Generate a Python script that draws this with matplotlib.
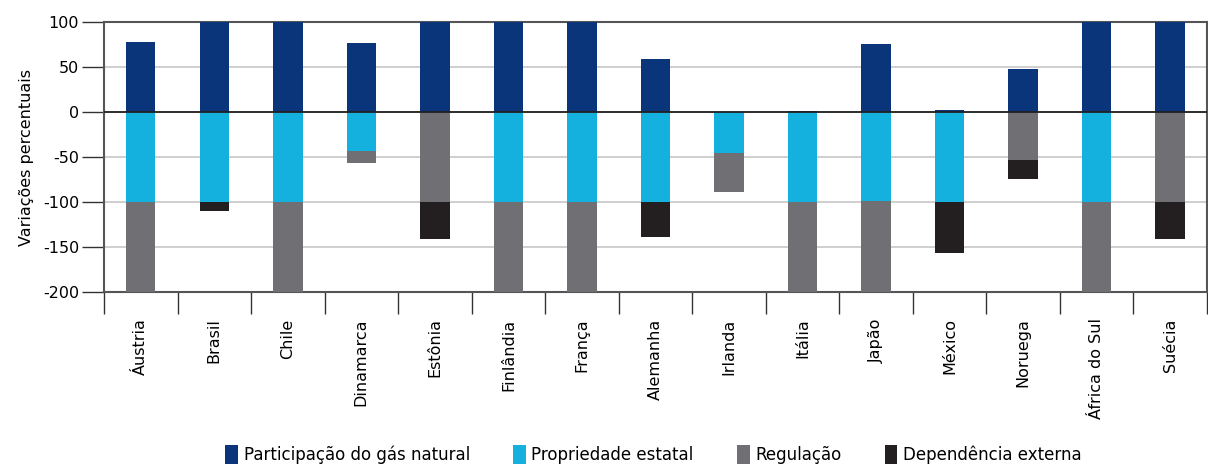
import numpy as np
import matplotlib.pyplot as plt
from matplotlib.ticker import FixedLocator

# Dados (variações percentuais)
paises = ['Áustria', 'Brasil', 'Chile', 'Dinamarca', 'Estônia', 'Finlândia', 'França',
          'Alemanha', 'Irlanda', 'Itália', 'Japão', 'México', 'Noruega', 'África do Sul', 'Suécia']
gas_natural = [78, 100, 100, 77, 100, 100, 100, 59, 0, 1, 76, 2, 48, 100, 100]
prop_estatal = [-100, -100, -100, -43, 0, -100, -100, -100, -46, -100, -99, -100, 0, -100, 0]
regulacao = [-100, 0, -100, -14, -100, -100, -100, 0, -43, -100, -101, 0, -53, -100, -100]
dependencia = [0, -10, 0, 0, -41, 0, 0, -39, 0, 0, 0, -57, -21, 0, -41]

legendas = ['Participação do gás natural', 'Propriedade estatal', 'Regulação', 'Dependência externa']
cores = ['#0a357a', '#14b0de', '#707074', '#231f20']

plt.rcParams['font.family'] = ['DejaVu Sans']
plt.rcParams['axes.unicode_minus'] = False

fig = plt.figure(figsize=(12.08, 4.65), dpi=100)
ax = fig.add_axes([0.0861, 0.372, 0.913, 0.5806])

x = np.arange(len(paises))
w = 0.4
est = np.array(prop_estatal)
reg = np.array(regulacao)
dep = np.array(dependencia)

ax.bar(x, gas_natural, w, color=cores[0], label=legendas[0], zorder=3)
ax.bar(x, est, w, color=cores[1], label=legendas[1], zorder=3)
ax.bar(x, reg, w, bottom=est, color=cores[2], label=legendas[2], zorder=3)
ax.bar(x, dep, w, bottom=est + reg, color=cores[3], label=legendas[3], zorder=3)

ax.set_xlim(-0.5, len(paises) - 0.5)
ax.set_ylim(-200, 100)
ax.set_yticks([-200, -150, -100, -50, 0, 50, 100])
ax.yaxis.grid(True, color='#cccccc', linewidth=1.3, zorder=0)
ax.axhline(0, color='#231f20', linewidth=1.3, zorder=4)

ax.set_xticks(x)
ax.set_xticklabels(paises, rotation=90, fontsize=11.5)
ax.tick_params(axis='x', which='major', length=0, pad=19)
ax.xaxis.set_minor_locator(FixedLocator(np.arange(-0.5, len(paises), 1)))
ax.tick_params(axis='x', which='minor', length=16, width=1, color='#333333')
ax.tick_params(axis='y', length=16, width=1, color='#333333', labelsize=11.5, pad=2)

for s in ax.spines.values():
    s.set_color('#555555')
    s.set_linewidth(1.5)

ax.set_ylabel('Variações percentuais', fontsize=11.5, labelpad=6)

fig.legend(loc='lower center', bbox_to_anchor=(0.541, -0.03), ncol=4, frameon=False,
           fontsize=12, handlelength=0.75, handleheight=1.4, handletextpad=0.35,
           columnspacing=2.6)

fig.savefig('out.png', dpi=100)
